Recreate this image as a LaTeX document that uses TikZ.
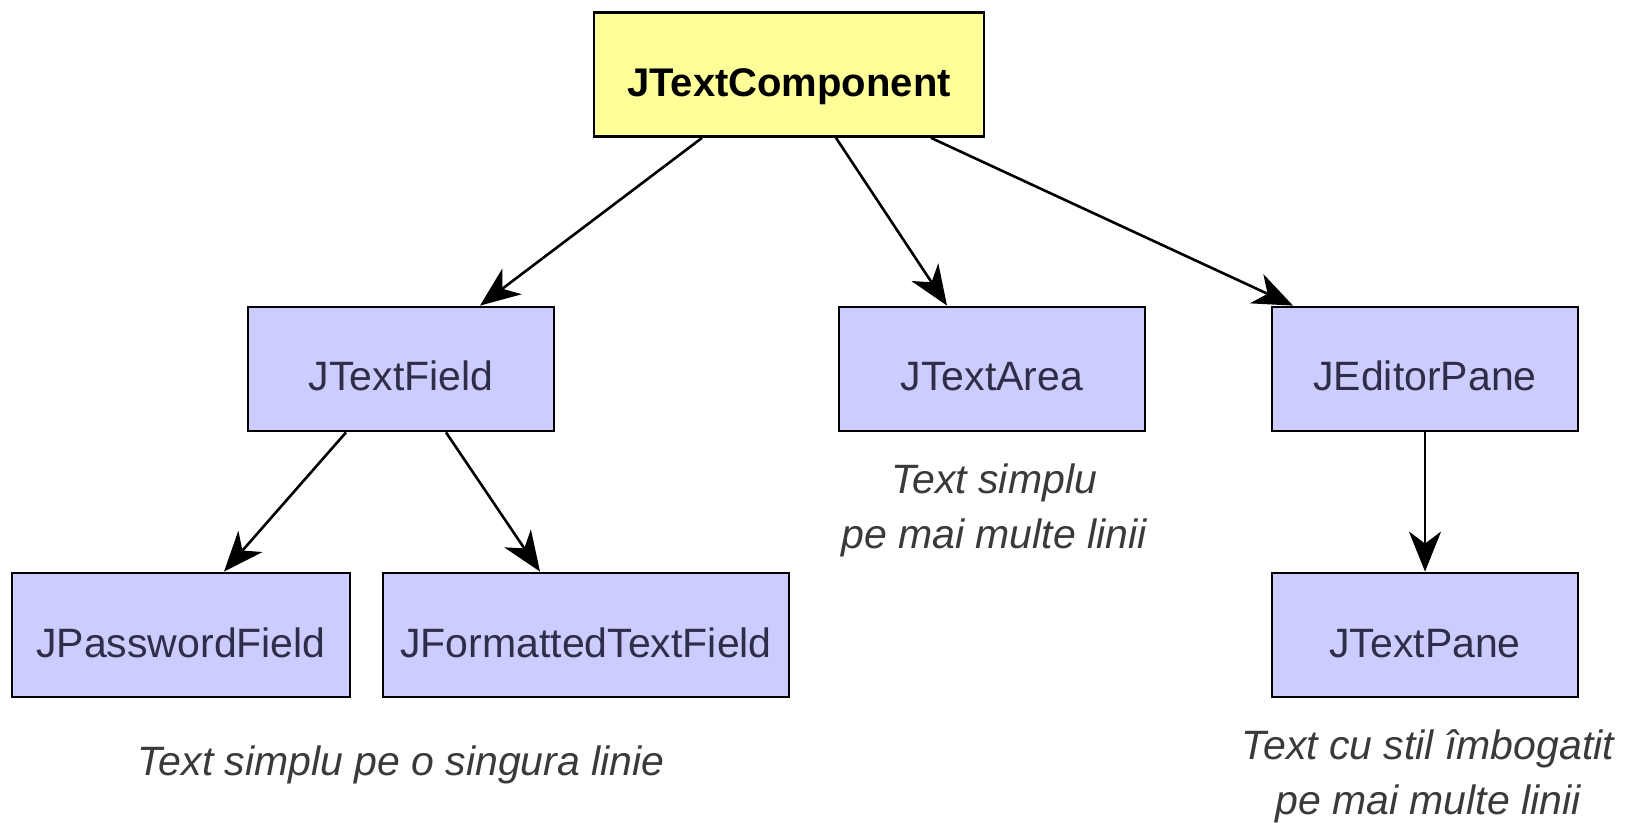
\documentclass[tikz,border=0pt]{standalone}
\usepackage{fontspec}
\setmainfont{Liberation Sans}
\usetikzlibrary{arrows.meta}
\definecolor{rootfill}{HTML}{FFFF99}
\definecolor{classfill}{HTML}{CCCCFF}
\definecolor{classtext}{HTML}{2E2E48}
\definecolor{notetext}{HTML}{3A3A3A}
\begin{document}
\begin{tikzpicture}[x=1pt, y=-1pt,
    classbox/.style={draw=black, line width=1.4pt, fill=classfill, text=classtext,
        minimum height=62pt, minimum width=153pt, inner sep=0pt,
        text height=22pt, text depth=0pt,
        font=\fontsize{20.5}{24}\selectfont},
    rootbox/.style={classbox, fill=rootfill, text=black, minimum width=195pt,
        font=\fontsize{20}{24}\selectfont\bfseries},
    note/.style={align=center, text=notetext,
        font=\fontsize{20.5}{27.5}\selectfont\itshape},
    inherit/.style={-{Stealth[length=20pt, width=16pt, inset=6pt]}, line width=1.3pt}]
% Fix the page size
\useasboundingbox (0,0) rectangle (814,411.5);
% Draw class boxes
\node[rootbox] (comp) at (394.5,37.25) {JTextComponent};
\node[classbox] (field) at (200.5,184.5) {JTextField};
\node[classbox] (area) at (496,184.5) {JTextArea};
\node[classbox] (editor) at (712.5,184.5) {JEditorPane};
\node[classbox, minimum width=169pt] (password) at (90.5,317.5) {JPasswordField};
\node[classbox, minimum width=203pt] (formatted) at (293,317.5) {JFormattedTextField};
\node[classbox] (pane) at (712.5,317.5) {JTextPane};
% Draw notes
\node[note] (areanote) at (497,255) {Text simplu\\pe mai multe linii};
\node[note] (fieldnote) at (200.5,382.5) {Text simplu pe o singura linie};
\node[note] (panenote) at (714,388) {Text cu stil îmbogatit\\pe mai multe linii};
% Draw inheritance arrows
\draw[inherit] ([xshift=-43.5pt]comp.south) -- ([xshift=39.5pt]field.north);
\draw[inherit] ([xshift=23.5pt]comp.south) -- ([xshift=-22.5pt]area.north);
\draw[inherit] ([xshift=71pt]comp.south) -- ([xshift=-66pt]editor.north);
\draw[inherit] ([xshift=-27.5pt]field.south) -- ([xshift=21.5pt]password.north);
\draw[inherit] ([xshift=22.5pt]field.south) -- ([xshift=-23pt]formatted.north);
\draw[inherit] (editor.south) -- (pane.north);
\end{tikzpicture}
\end{document}
